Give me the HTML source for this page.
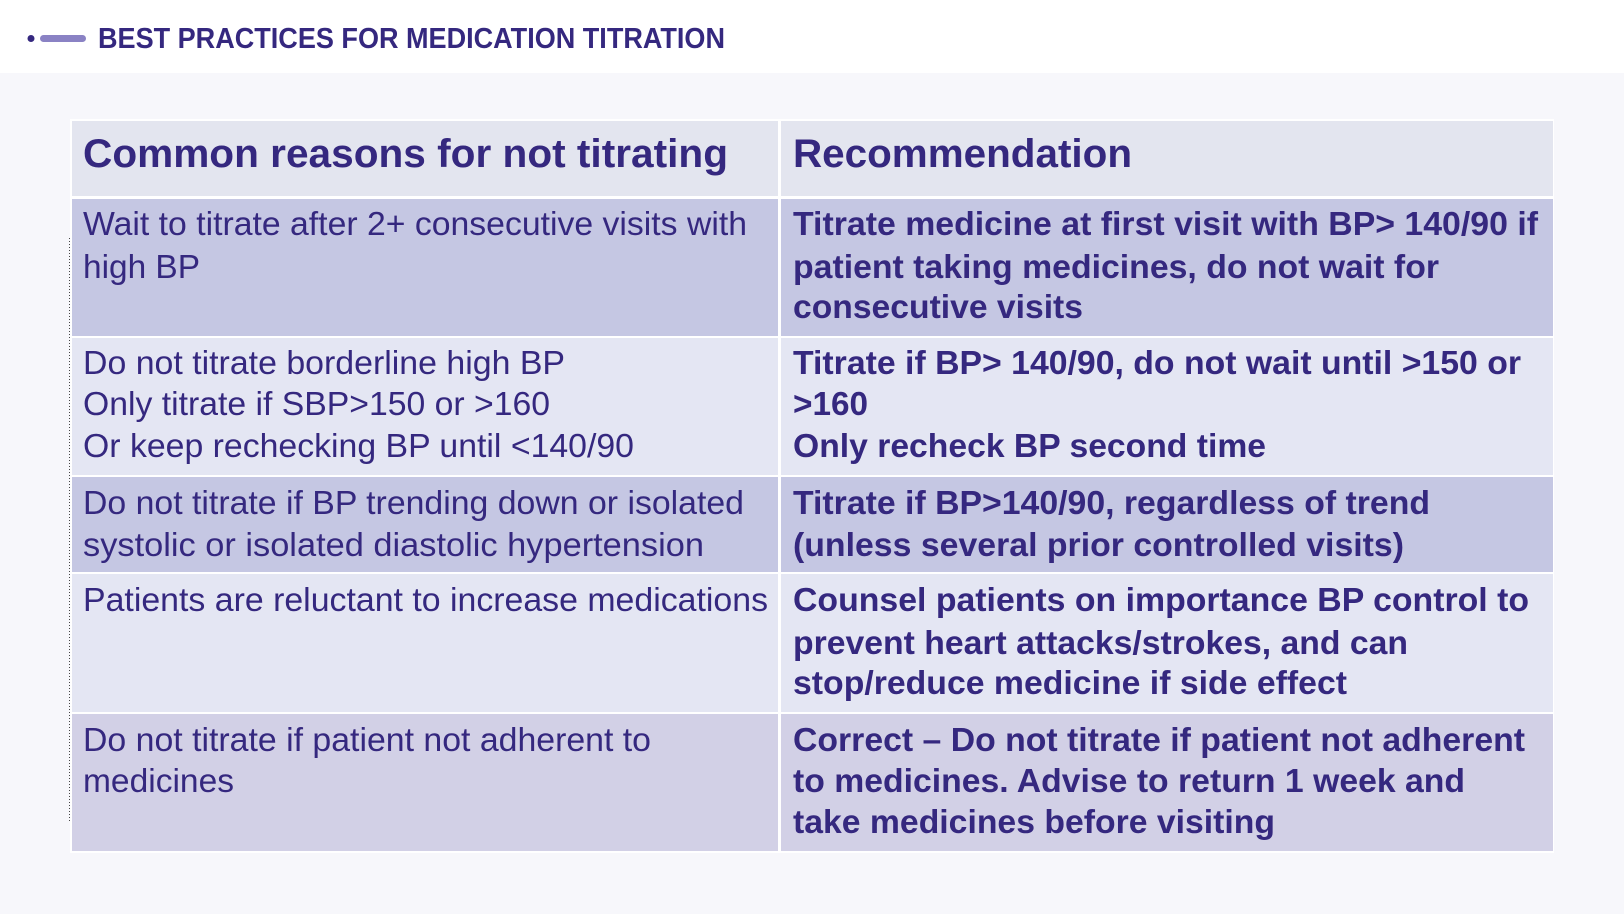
<!DOCTYPE html>
<html><head><meta charset="utf-8"><style>
html,body{margin:0;padding:0;width:1624px;height:914px;overflow:hidden;background:#f7f7fb}
svg{display:block}
text{font-family:"Liberation Sans",Arial,sans-serif;fill:#35287f}
.b{font-weight:bold}
</style></head><body>
<svg width="1624" height="914" viewBox="0 0 1624 914">
<rect x="0" y="0" width="1624" height="914" fill="#f7f7fb"/>
<rect x="0" y="0" width="1624" height="73" fill="#ffffff"/>
<circle cx="31" cy="38.5" r="3.5" fill="#35287f"/>
<rect x="40" y="35" width="46" height="7" rx="3.5" fill="#8a82c4"/>
<text class="b" x="98" y="48" font-size="29" textLength="627" lengthAdjust="spacingAndGlyphs">BEST PRACTICES FOR MEDICATION TITRATION</text>

<rect x="70" y="119" width="1484" height="734" fill="#ffffff"/>
<rect x="72" y="121" width="706" height="75" fill="#e3e5ef"/>
<rect x="781" y="121" width="772" height="75" fill="#e3e5ef"/>
<rect x="72" y="199" width="706" height="137" fill="#c5c7e3"/>
<rect x="781" y="199" width="772" height="137" fill="#c5c7e3"/>
<rect x="72" y="338" width="706" height="137" fill="#e4e6f3"/>
<rect x="781" y="338" width="772" height="137" fill="#e4e6f3"/>
<rect x="72" y="477" width="706" height="95" fill="#c5c7e3"/>
<rect x="781" y="477" width="772" height="95" fill="#c5c7e3"/>
<rect x="72" y="574" width="706" height="138" fill="#e4e6f3"/>
<rect x="781" y="574" width="772" height="138" fill="#e4e6f3"/>
<rect x="72" y="714" width="706" height="137" fill="#d2d0e6"/>
<rect x="781" y="714" width="772" height="137" fill="#d2d0e6"/>
<line x1="69.5" y1="238" x2="69.5" y2="823" stroke="#444" stroke-width="1" stroke-dasharray="1,2"/>

<text class="b" x="83" y="167" font-size="40" textLength="645" lengthAdjust="spacingAndGlyphs">Common reasons for not titrating</text>
<text class="b" x="793" y="167" font-size="40" textLength="339" lengthAdjust="spacingAndGlyphs">Recommendation</text>

<g font-size="33">
<text x="83" y="235" textLength="664" lengthAdjust="spacingAndGlyphs">Wait to titrate after 2+ consecutive visits with</text>
<text x="83" y="278" textLength="117" lengthAdjust="spacingAndGlyphs">high BP</text>
<text x="83" y="374" textLength="482" lengthAdjust="spacingAndGlyphs">Do not titrate borderline high BP</text>
<text x="83" y="415" textLength="467" lengthAdjust="spacingAndGlyphs">Only titrate if SBP&gt;150 or &gt;160</text>
<text x="83" y="457" textLength="551" lengthAdjust="spacingAndGlyphs">Or keep rechecking BP until &lt;140/90</text>
<text x="83" y="514" textLength="661" lengthAdjust="spacingAndGlyphs">Do not titrate if BP trending down or isolated</text>
<text x="83" y="556" textLength="621" lengthAdjust="spacingAndGlyphs">systolic or isolated diastolic hypertension</text>
<text x="83" y="611" textLength="685" lengthAdjust="spacingAndGlyphs">Patients are reluctant to increase medications</text>
<text x="83" y="751" textLength="568" lengthAdjust="spacingAndGlyphs">Do not titrate if patient not adherent to</text>
<text x="83" y="792" textLength="151" lengthAdjust="spacingAndGlyphs">medicines</text>
</g>
<g font-size="33">
<text class="b" x="793" y="235" textLength="745" lengthAdjust="spacingAndGlyphs">Titrate medicine at first visit with BP&gt; 140/90 if</text>
<text class="b" x="793" y="278" textLength="646" lengthAdjust="spacingAndGlyphs">patient taking medicines, do not wait for</text>
<text class="b" x="793" y="318" textLength="290" lengthAdjust="spacingAndGlyphs">consecutive visits</text>
<text class="b" x="793" y="374" textLength="728" lengthAdjust="spacingAndGlyphs">Titrate if BP&gt; 140/90, do not wait until &gt;150 or</text>
<text class="b" x="793" y="415" textLength="75" lengthAdjust="spacingAndGlyphs">&gt;160</text>
<text class="b" x="793" y="457" textLength="473" lengthAdjust="spacingAndGlyphs">Only recheck BP second time</text>
<text class="b" x="793" y="514" textLength="637" lengthAdjust="spacingAndGlyphs">Titrate if BP&gt;140/90, regardless of trend</text>
<text class="b" x="793" y="556" textLength="611" lengthAdjust="spacingAndGlyphs">(unless several prior controlled visits)</text>
<text class="b" x="793" y="611" textLength="736" lengthAdjust="spacingAndGlyphs">Counsel patients on importance BP control to</text>
<text class="b" x="793" y="654" textLength="615" lengthAdjust="spacingAndGlyphs">prevent heart attacks/strokes, and can</text>
<text class="b" x="793" y="694" textLength="554" lengthAdjust="spacingAndGlyphs">stop/reduce medicine if side effect</text>
<text class="b" x="793" y="751" textLength="732" lengthAdjust="spacingAndGlyphs">Correct – Do not titrate if patient not adherent</text>
<text class="b" x="793" y="792" textLength="672" lengthAdjust="spacingAndGlyphs">to medicines. Advise to return 1 week and</text>
<text class="b" x="793" y="833" textLength="482" lengthAdjust="spacingAndGlyphs">take medicines before visiting</text>
</g>
</svg>
</body></html>
